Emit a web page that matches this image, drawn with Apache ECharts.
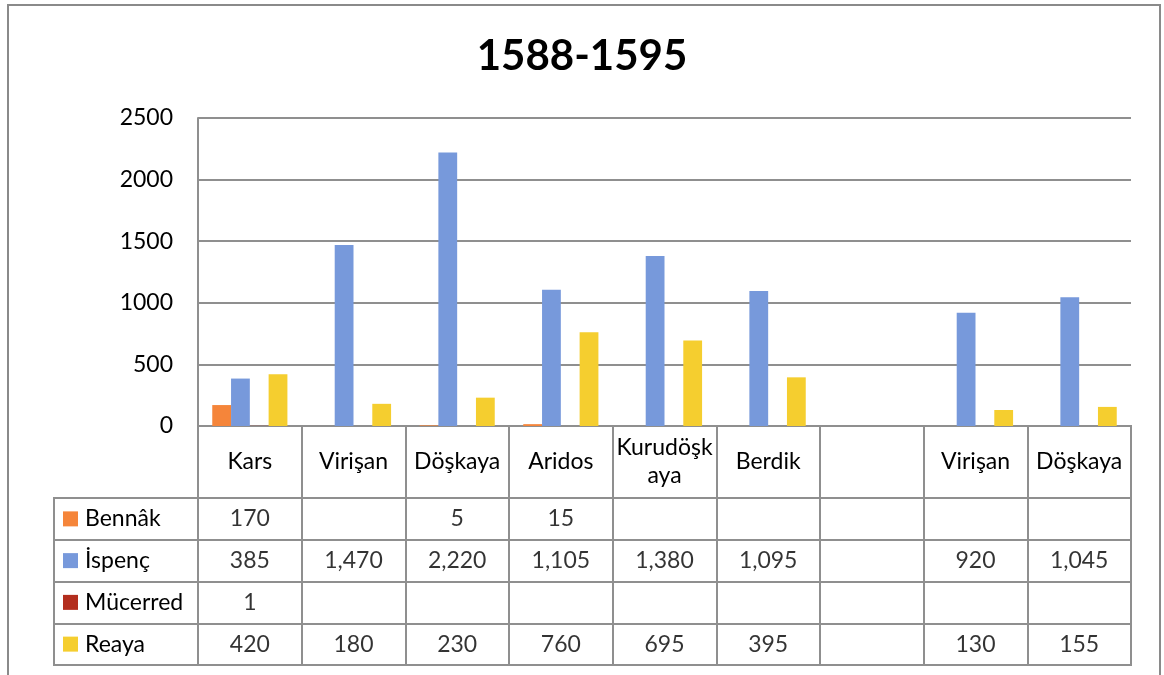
<!DOCTYPE html>
<html>
<head>
<meta charset="utf-8">
<script src="https://cdn.jsdelivr.net/npm/echarts@6/dist/echarts.min.js"></script>
<style>
  html, body { margin: 0; padding: 0; background: #fff; }
  #main { width: 1164px; height: 675px; }
</style>
</head>
<body>
<div id="main"></div>
<script type="text/javascript">
    // chart values
    var categories = ['Kars', 'Virişan', 'Döşkaya', 'Aridos', 'Kurudöşkaya', 'Berdik', '', 'Virişan', 'Döşkaya'];
    var seriesNames = ['Bennâk', 'İspenç', 'Mücerred', 'Reaya'];
    var bennak   = [170, null, 5, 15, null, null, null, null, null];
    var ispenc   = [385, 1470, 2220, 1105, 1380, 1095, null, 920, 1045];
    var mucerred = [1, null, null, null, null, null, null, null, null];
    var reaya    = [420, 180, 230, 760, 695, 395, null, 130, 155];
    var yTicks   = [0, 500, 1000, 1500, 2000, 2500];

    var colors = ['#F5853A', '#7799DB', '#B32E1E', '#F5CE2F'];
    var lineColor = '#8f8f8f';
    var font = 'Lato';

    var allData = [bennak, ispenc, mucerred, reaya];

    // table cells
    var cells = [];
    for (var r = 0; r < allData.length; r++) {
        for (var c = 0; c < categories.length; c++) {
            if (allData[r][c] != null) {
                cells.push([c, r, allData[r][c]]);
            }
        }
    }

    var rich = {};
    for (var i = 0; i < colors.length; i++) {
        rich['m' + i] = { width: 15, height: 15, backgroundColor: colors[i] };
    }
    rich.t = { fontSize: 23, fontFamily: font, color: '#000', padding: [0, 0, 0, 7] };

    var barSeries = [];
    for (var s = 0; s < seriesNames.length; s++) {
        barSeries.push({
            name: seriesNames[s],
            type: 'bar',
            xAxisIndex: 0,
            yAxisIndex: 0,
            data: allData[s],
            barGap: 0,
            barCategoryGap: '27.5%',
            itemStyle: { color: colors[s] }
        });
    }

    var myChart = echarts.init(document.getElementById('main'));
    var option = {
        animation: false,
        backgroundColor: '#fff',
        title: {
            text: '1588-1595',
            left: 'center',
            top: 30,
            textStyle: { fontFamily: font, fontWeight: 'bold', fontSize: 42, color: '#000' }
        },
        graphic: [{
            type: 'rect',
            shape: { x: 8, y: 5, width: 1152, height: 720 },
            style: { fill: 'none', stroke: '#8a8a8a', lineWidth: 2 },
            silent: true
        }],
        grid: [
            { left: 198, top: 118, width: 933, height: 308 },
            { left: 198, top: 426, width: 933, height: 72, show: true, borderColor: lineColor, borderWidth: 2 },
            { left: 198, top: 498, width: 933, height: 167, show: true, borderColor: lineColor, borderWidth: 2 },
            { left: 54, top: 498, width: 144, height: 167, show: true, borderColor: lineColor, borderWidth: 2 }
        ],
        xAxis: [
            {
                type: 'category', gridIndex: 0, data: categories,
                axisLine: { show: true, lineStyle: { color: lineColor, width: 2 } },
                axisTick: { show: false },
                axisLabel: {
                    margin: 36, verticalAlign: 'middle', interval: 0,
                    fontSize: 23, fontFamily: font, color: '#000', lineHeight: 28,
                    formatter: function (v) { return v === 'Kurudöşkaya' ? 'Kurudöşk\naya' : v; }
                }
            },
            {
                type: 'category', gridIndex: 1, data: categories,
                axisLine: { show: false }, axisTick: { show: false }, axisLabel: { show: false },
                splitLine: { show: true, interval: 0, lineStyle: { color: lineColor, width: 2 } }
            },
            {
                type: 'category', gridIndex: 2, data: categories,
                axisLine: { show: false }, axisTick: { show: false }, axisLabel: { show: false },
                splitLine: { show: true, interval: 0, lineStyle: { color: lineColor, width: 2 } }
            },
            {
                type: 'value', gridIndex: 3, show: false
            }
        ],
        yAxis: [
            {
                type: 'value', gridIndex: 0,
                min: yTicks[0], max: yTicks[yTicks.length - 1], interval: 500,
                axisLine: { show: true, lineStyle: { color: lineColor, width: 2 } },
                axisTick: { show: false },
                axisLabel: {
                    margin: 25, fontSize: 23, fontFamily: font, color: '#000',
                    formatter: function (v) { return String(v); }
                },
                splitLine: { show: true, lineStyle: { color: lineColor, width: 2 } }
            },
            {
                type: 'value', gridIndex: 1, show: false
            },
            {
                type: 'category', gridIndex: 2, data: seriesNames, inverse: true,
                axisLine: { show: false }, axisTick: { show: false }, axisLabel: { show: false },
                splitLine: { show: true, interval: 0, lineStyle: { color: lineColor, width: 2 } }
            },
            {
                type: 'category', gridIndex: 3, data: seriesNames, inverse: true,
                axisLine: { show: false }, axisTick: { show: false },
                axisLabel: {
                    inside: true, margin: 9, interval: 0,
                    formatter: function (v, idx) { return '{m' + idx + '|}{t|' + v + '}'; },
                    rich: rich
                },
                splitLine: { show: true, interval: 0, lineStyle: { color: lineColor, width: 2 } }
            }
        ],
        series: barSeries.concat([{
            name: 'table',
            type: 'scatter',
            xAxisIndex: 2,
            yAxisIndex: 2,
            symbolSize: 1,
            itemStyle: { color: 'rgba(0,0,0,0)' },
            data: cells,
            label: {
                show: true,
                position: 'inside',
                fontSize: 23,
                fontFamily: font,
                color: '#000',
                formatter: function (p) { return p.value[2].toLocaleString('en-US'); }
            }
        }])
    };
    myChart.setOption(option);
</script>
</body>
</html>
